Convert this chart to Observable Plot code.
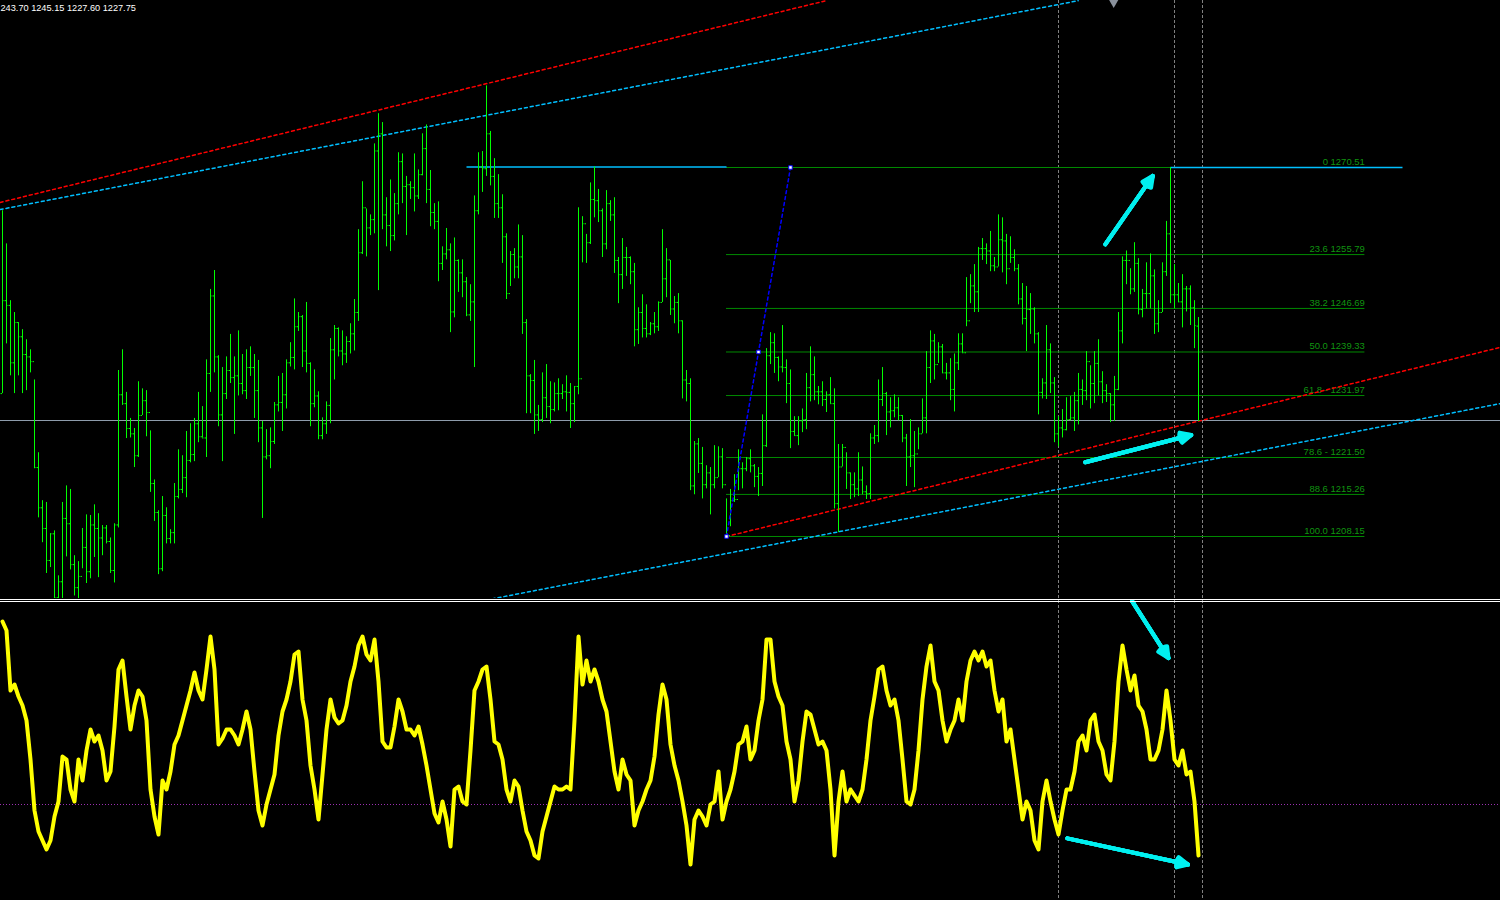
<!DOCTYPE html>
<html><head><meta charset="utf-8">
<script src="https://cdn.jsdelivr.net/npm/d3@7"></script>
<script src="https://cdn.jsdelivr.net/npm/@observablehq/plot@0.6"></script>
<style>
html,body{margin:0;padding:0;background:#000;overflow:hidden;}
#chart{position:relative;width:1500px;height:900px;overflow:hidden;background:#000;}
#top{position:absolute;left:0;top:0;}
#bottom{position:absolute;left:0;top:600px;}
.sep{position:absolute;left:0;width:1500px;height:1px;background:#fff;}
</style></head>
<body><div id="chart"><div id="top"></div><div id="bottom"></div><div class="sep" style="top:599px"></div><div class="sep" style="top:601px"></div></div>
<script>
// ---- price bars (bar index 0..299) ----
const high = [1263.2,1257.6,1248.0,1246.0,1244.3,1243.1,1241.4,1239.7,1234.6,1222.3,
1214.2,1213.9,1208.6,1209.1,1201.5,1213.9,1216.7,1216.1,1204.9,1203.9,
1209.5,1211.8,1211.7,1213.5,1212.0,1210.0,1210.0,1207.9,1210.3,1236.2,
1239.7,1232.5,1228.1,1226.4,1234.3,1233.1,1232.8,1226.0,1217.7,1212.5,
1214.9,1213.0,1209.3,1217.1,1222.8,1221.8,1225.9,1227.2,1228.1,1232.5,
1230.1,1238.0,1249.9,1253.1,1238.7,1236.7,1238.5,1242.3,1238.5,1242.9,
1238.9,1239.7,1240.2,1238.9,1237.9,1227.6,1226.2,1226.5,1230.8,1235.2,
1235.7,1238.0,1240.9,1248.3,1246.0,1245.5,1247.7,1237.5,1236.3,1232.6,
1228.2,1230.9,1241.6,1243.8,1243.4,1242.9,1241.9,1244.1,1248.2,1260.0,
1268.1,1263.5,1262.5,1274.5,1279.6,1278.1,1265.4,1268.4,1266.1,1273.0,
1272.8,1269.0,1268.1,1272.8,1270.1,1276.2,1277.7,1270.0,1264.4,1264.7,
1257.1,1260.2,1257.6,1258.6,1254.9,1254.9,1251.9,1250.7,1265.7,1273.0,
1273.2,1284.3,1276.6,1272.0,1269.3,1265.9,1259.3,1256.3,1256.8,1260.8,
1259.0,1244.8,1235.5,1237.9,1230.3,1235.8,1237.2,1234.3,1234.1,1234.8,
1233.8,1235.3,1234.0,1233.5,1263.7,1262.2,1259.2,1267.9,1270.6,1266.8,
1263.5,1266.6,1264.9,1265.4,1255.3,1258.5,1257.0,1255.4,1254.3,1246.8,
1249.0,1247.3,1244.3,1246.0,1247.8,1260.0,1256.8,1254.8,1248.7,1249.2,
1244.6,1236.2,1234.8,1224.2,1224.7,1223.2,1220.1,1219.8,1223.5,1223.3,
1223.0,1214.5,1216.1,1218.6,1222.8,1220.6,1221.5,1222.8,1220.3,1219.8,
1228.7,1239.9,1242.6,1242.4,1238.5,1243.8,1238.0,1236.3,1228.4,1228.4,
1229.7,1235.7,1240.2,1238.5,1233.5,1234.3,1232.6,1235.0,1233.1,1223.7,
1223.7,1222.3,1218.9,1218.9,1222.3,1219.9,1216.7,1225.5,1226.9,1234.6,
1236.7,1232.5,1231.6,1232.1,1231.6,1228.6,1225.4,1227.9,1225.9,1226.5,
1231.4,1239.4,1242.9,1242.3,1240.9,1240.6,1237.4,1238.2,1239.0,1242.4,
1242.4,1251.9,1252.4,1254.1,1257.0,1258.5,1257.6,1259.7,1255.3,1262.5,
1262.0,1259.2,1258.8,1256.6,1254.1,1250.9,1250.4,1249.2,1246.8,1242.6,
1234.8,1243.8,1240.7,1235.0,1228.4,1229.6,1231.6,1231.8,1232.5,1235.7,
1234.6,1239.4,1237.0,1239.4,1241.4,1236.0,1233.8,1232.3,1235.2,1246.0,
1255.4,1256.4,1253.4,1257.8,1255.1,1249.9,1254.4,1255.9,1253.2,1248.0,
1254.4,1261.4,1270.51,1254.1,1250.9,1252.4,1250.4,1250.5,1248.0,1245.15];
const low = [1232.3,1240.7,1235.3,1232.3,1235.3,1232.3,1232.8,1235.8,1219.6,1211.3,
1207.1,1201.9,1202.9,1196.5,1196.8,1196.8,1204.7,1202.5,1198.1,1197.0,
1202.7,1200.2,1201.0,1204.6,1201.2,1204.9,1206.9,1201.9,1200.3,1209.6,
1230.3,1224.7,1224.8,1219.8,1221.5,1228.6,1225.0,1215.6,1210.7,1201.7,
1202.2,1206.9,1206.9,1206.9,1214.5,1215.4,1214.7,1220.6,1220.8,1224.0,
1224.8,1221.5,1232.5,1235.8,1226.7,1220.8,1231.3,1234.0,1225.4,1231.9,
1232.1,1231.3,1235.2,1228.1,1224.0,1211.2,1221.1,1219.6,1223.7,1229.2,
1225.9,1229.7,1236.8,1236.3,1242.8,1236.7,1235.8,1226.7,1229.9,1224.5,
1224.5,1225.4,1227.2,1234.6,1238.5,1237.0,1237.4,1239.0,1239.5,1244.5,
1255.8,1255.4,1259.0,1259.3,1249.7,1260.0,1257.1,1256.3,1258.1,1262.5,
1264.4,1259.0,1265.1,1263.0,1265.1,1269.1,1264.4,1260.5,1260.0,1251.2,
1253.1,1254.9,1242.6,1245.1,1249.4,1248.5,1245.3,1244.5,1236.7,1262.5,
1266.3,1269.0,1267.4,1261.9,1261.9,1254.3,1248.2,1250.4,1251.7,1251.7,
1242.3,1228.9,1228.9,1225.4,1225.9,1227.4,1228.1,1227.2,1229.2,1229.4,
1231.3,1229.2,1226.4,1227.4,1232.1,1254.4,1254.3,1257.5,1262.0,1261.2,
1255.3,1256.6,1261.4,1252.6,1247.5,1249.9,1252.1,1250.7,1240.2,1240.6,
1241.7,1241.7,1242.1,1242.4,1242.8,1247.7,1248.5,1245.5,1244.1,1242.4,
1231.4,1230.9,1215.9,1215.2,1218.8,1214.5,1216.2,1211.8,1216.2,1218.1,
1216.2,1208.15,1209.8,1213.9,1215.9,1216.2,1219.1,1218.9,1216.4,1214.9,
1216.6,1223.2,1237.2,1235.7,1234.3,1235.8,1230.6,1223.0,1225.2,1223.5,
1225.7,1226.2,1230.9,1231.1,1230.4,1230.1,1229.1,1230.6,1212.8,1208.8,
1219.9,1216.1,1214.4,1214.7,1214.9,1215.2,1214.4,1214.4,1223.7,1224.0,
1230.1,1225.2,1226.5,1228.2,1227.7,1224.0,1216.6,1219.8,1216.4,1222.8,
1225.5,1225.5,1234.0,1234.6,1237.4,1235.7,1234.6,1231.1,1229.2,1236.2,
1239.2,1243.6,1247.5,1246.0,1246.0,1254.8,1254.1,1252.9,1252.9,1253.7,
1252.7,1250.7,1254.3,1252.9,1247.3,1243.9,1239.4,1242.3,1240.7,1228.7,
1231.4,1231.3,1232.3,1224.0,1223.3,1224.8,1226.0,1227.7,1225.9,1227.0,
1230.3,1231.1,1229.7,1230.6,1231.9,1230.6,1230.8,1227.4,1227.6,1232.8,
1240.7,1250.7,1249.0,1249.4,1245.6,1245.1,1246.6,1246.6,1242.3,1242.6,
1246.0,1252.1,1247.5,1246.6,1247.7,1243.4,1246.1,1243.8,1239.9,1227.60];
const open = [1232.3,1248.0,1247.2,1237.5,1244.3,1241.9,1238.9,1238.5,1237.7,1219.8,
1213.0,1209.5,1204.1,1208.6,1197.8,1200.5,1211.2,1210.3,1203.4,1199.5,
1201.4,1206.3,1202.2,1210.1,1209.5,1207.9,1209.6,1207.3,1202.4,1210.1,
1232.1,1230.6,1226.4,1225.5,1221.8,1228.6,1231.1,1229.1,1217.1,1212.2,
1202.7,1211.7,1207.8,1208.8,1214.9,1216.1,1218.1,1221.0,1222.0,1227.2,
1225.0,1224.8,1235.7,1248.8,1238.5,1228.7,1232.3,1236.2,1235.0,1235.3,
1234.0,1232.8,1236.7,1236.7,1232.8,1226.5,1221.6,1221.8,1224.2,1230.4,
1230.8,1232.1,1237.5,1238.4,1243.6,1245.3,1239.5,1237.4,1230.6,1231.9,
1225.2,1227.2,1230.3,1239.7,1243.3,1239.5,1239.0,1241.1,1242.4,1246.0,
1256.1,1263.7,1260.3,1261.7,1273.3,1276.2,1262.5,1260.7,1259.0,1264.4,
1271.5,1267.3,1267.6,1267.1,1265.7,1269.3,1273.7,1266.8,1262.9,1261.4,
1254.3,1255.9,1256.6,1246.1,1254.8,1252.7,1251.2,1245.6,1247.8,1263.2,
1270.6,1270.3,1276.2,1269.0,1264.4,1263.7,1258.8,1249.2,1255.8,1253.7,
1255.4,1244.3,1235.3,1234.5,1228.7,1227.9,1231.6,1230.1,1229.6,1232.3,
1232.3,1232.6,1232.5,1230.6,1233.5,1234.8,1261.0,1257.8,1265.1,1264.9,
1263.2,1257.6,1264.4,1262.5,1254.8,1252.4,1255.3,1255.3,1252.9,1243.1,
1246.0,1243.3,1242.4,1244.1,1243.6,1247.7,1251.7,1254.9,1246.6,1247.7,
1244.6,1234.6,1234.0,1216.7,1223.8,1220.5,1216.9,1218.9,1216.9,1218.1,
1221.6,1216.9,1208.3,1214.2,1214.4,1219.6,1219.6,1221.3,1220.1,1218.3,
1218.8,1223.5,1238.7,1240.9,1238.4,1236.8,1236.7,1234.0,1225.9,1225.2,
1227.7,1227.9,1233.3,1235.5,1232.6,1232.6,1231.3,1232.1,1230.6,1213.7,
1219.9,1223.2,1218.9,1216.9,1216.2,1217.7,1215.7,1215.4,1224.8,1225.2,
1231.3,1232.3,1229.2,1229.4,1229.9,1228.6,1224.8,1221.6,1221.8,1222.1,
1225.5,1228.2,1236.7,1241.2,1237.2,1240.2,1235.8,1235.8,1233.0,1237.5,
1240.7,1239.2,1244.6,1250.5,1249.5,1256.8,1256.8,1256.4,1253.9,1253.7,
1258.3,1258.1,1253.4,1255.3,1253.4,1248.3,1245.0,1246.5,1246.6,1242.4,
1232.5,1234.1,1239.7,1234.1,1225.5,1226.5,1226.2,1227.9,1228.2,1231.1,
1233.0,1232.8,1237.7,1234.0,1237.4,1234.3,1232.8,1232.3,1230.4,1233.0,
1242.9,1254.8,1254.8,1250.0,1254.3,1246.5,1249.2,1249.2,1252.2,1244.1,
1246.0,1252.9,1259.3,1249.0,1249.0,1247.8,1250.0,1250.0,1246.8,1243.70];
const close = [1248.0,1247.2,1237.5,1244.3,1241.9,1238.9,1238.5,1237.7,1219.8,1213.0,
1209.5,1204.1,1208.6,1197.8,1200.5,1211.2,1210.3,1203.4,1199.5,1201.4,
1206.3,1202.2,1210.1,1209.5,1207.9,1209.6,1207.3,1202.4,1210.1,1232.1,
1230.6,1226.4,1225.5,1221.8,1228.6,1231.1,1229.1,1217.1,1212.2,1202.7,
1211.7,1207.8,1208.8,1214.9,1216.1,1218.1,1221.0,1222.0,1227.2,1225.0,
1224.8,1235.7,1248.8,1238.5,1228.7,1232.3,1236.2,1235.0,1235.3,1234.0,
1232.8,1236.7,1236.7,1232.8,1226.5,1221.6,1221.8,1224.2,1230.4,1230.8,
1232.1,1237.5,1238.4,1243.6,1245.3,1239.5,1237.4,1230.6,1231.9,1225.2,
1227.2,1230.3,1239.7,1243.3,1239.5,1239.0,1241.1,1242.4,1246.0,1256.1,
1263.7,1260.3,1261.7,1273.3,1276.2,1262.5,1260.7,1259.0,1264.4,1271.5,
1267.3,1267.6,1267.1,1265.7,1269.3,1273.7,1266.8,1262.9,1261.4,1254.3,
1255.9,1256.6,1246.1,1254.8,1252.7,1251.2,1245.6,1247.8,1263.2,1270.6,
1270.3,1276.2,1269.0,1264.4,1263.7,1258.8,1249.2,1255.8,1253.7,1255.4,
1244.3,1235.3,1234.5,1228.7,1227.9,1231.6,1230.1,1229.6,1232.3,1232.3,
1232.6,1232.5,1230.6,1233.5,1234.8,1261.0,1257.8,1265.1,1264.9,1263.2,
1257.6,1264.4,1262.5,1254.8,1252.4,1255.3,1255.3,1252.9,1243.1,1246.0,
1243.3,1242.4,1244.1,1243.6,1247.7,1251.7,1254.9,1246.6,1247.7,1244.6,
1234.6,1234.0,1216.7,1223.8,1220.5,1216.9,1218.9,1216.9,1218.1,1221.6,
1216.9,1208.3,1214.2,1214.4,1219.6,1219.6,1221.3,1220.1,1218.3,1218.8,
1223.5,1238.7,1240.9,1238.4,1236.8,1236.7,1234.0,1225.9,1225.2,1227.7,
1227.9,1233.3,1235.5,1232.6,1232.6,1231.3,1232.1,1230.6,1213.7,1219.9,
1223.2,1218.9,1216.9,1216.2,1217.7,1215.7,1215.4,1224.8,1225.2,1231.3,
1232.3,1229.2,1229.4,1229.9,1228.6,1224.8,1221.6,1221.8,1222.1,1225.5,
1228.2,1236.7,1241.2,1237.2,1240.2,1235.8,1235.8,1233.0,1237.5,1240.7,
1239.2,1244.6,1250.5,1249.5,1256.8,1256.8,1256.4,1253.9,1253.7,1258.3,
1258.1,1253.4,1255.3,1253.4,1248.3,1245.0,1246.5,1246.6,1242.4,1232.5,
1234.1,1239.7,1234.1,1225.5,1226.5,1226.2,1227.9,1228.2,1231.1,1233.0,
1232.8,1237.7,1234.0,1237.4,1234.3,1232.8,1232.3,1230.4,1233.0,1242.9,
1254.8,1254.8,1250.0,1254.3,1246.5,1249.2,1249.2,1252.2,1244.1,1246.0,
1252.9,1259.3,1249.0,1249.0,1247.8,1250.0,1250.0,1246.8,1243.8,1227.75];

// ---- oscillator (sub-window, 0..100) ----
const osc = [93,90,70,72,68,65,60,47,30,23, 20,17,20,28,33,48,47,37,33,47,
40,50,57,53,55,50,40,43,58,77, 80,68,57,65,70,68,60,37,28,22,
40,37,43,52,55,60,65,70,76,70, 67,77,88,77,52,54,57,57,55,52,
57,63,57,43,30,25,32,37,42,55, 63,67,73,82,83,67,60,45,37,27,
42,57,67,61,59,60,65,73,78,85, 88,82,80,87,73,53,51,51,58,67,
63,57,57,55,58,52,45,37,29,26, 33,27,18,37,38,33,32,50,70,73,
77,78,67,53,52,47,37,33,40,38, 30,23,20,15,14,23,28,33,38,37,
37,38,37,60,88,72,80,73,77,73, 67,63,53,43,37,47,42,40,25,30,
33,37,40,48,62,72,67,52,45,40, 33,25,12,27,30,28,25,32,33,43,
27,33,37,43,52,53,58,47,50,60, 67,87,87,73,68,65,53,47,33,40,
53,63,62,57,52,53,50,37,15,33, 43,33,37,35,33,37,47,60,68,77,
78,70,65,67,60,47,33,32,37,50, 67,78,85,73,70,60,53,57,60,67,
60,73,80,83,80,83,78,80,70,63, 67,53,57,47,37,27,33,30,20,17,
33,40,33,27,22,30,37,37,43,53, 55,50,60,62,53,50,42,40,53,73,
85,77,70,75,65,63,57,47,47,50, 57,70,60,47,45,50,42,43,33,15];
const oscLevel = 32;

// ---- header quote as visible at the window's left edge ----
const headerText = "243.70 1245.15 1227.60 1227.75";

// ---- Fibonacci retracement ----
const fibPrices = [1270.51,1255.79,1246.69,1239.33,1231.97,1221.50,1215.26,1208.15];
const fibLabels = ["0 1270.51","23.6 1255.79","38.2 1246.69","50.0 1239.33","61.8 - 1231.97","78.6 - 1221.50","88.6 1215.26","100.0 1208.15"];
const fibStartBar = 181, fibEndBar = 340.6;
const fibAnchorBars = [181, 189, 197];
const fibAnchorPrices = [1208.15, 1239.33, 1270.51];

// ---- channel trend lines (bar, price anchors) ----
const redUpperBars = [-0.6, 205.9], redUpperPrices = [1264.6, 1298.7];
const redLowerBars = [181, 374.4], redLowerPrices = [1208.15, 1240.1];
const blueUpperBars = [-0.6, 268.9], blueUpperPrices = [1263.4, 1298.7];
const blueLowerBars = [122.4, 374.4], blueLowerPrices = [1197.6, 1230.6];

// ---- horizontal lines ----
const cyanStartBars = [116, 292], cyanEndBars = [181, 350], cyanPrices = [1270.6, 1270.51];
const bidPrice = 1227.75;
const vLineBars = [264, 293, 300];
const chartShiftBar = 277.8;

// ---- arrows ----
const topArrowBars1 = [275.7, 270.7], topArrowPrices1 = [1257.5, 1220.7];
const topArrowBars2 = [287.6, 297.2], topArrowPrices2 = [1269.1, 1225.3];
const botArrowBars1 = [282.4, 266.2], botArrowValues1 = [99.8, 20.7];
const botArrowBars2 = [291.5, 296.4], botArrowValues2 = [80.8, 12];

// ---- build tables ----
const bars = high.map((h, i) => ({i, high: h, low: low[i], open: open[i], close: close[i]}));
const oscData = osc.map((v, i) => ({i, v}));
const fib = fibPrices.map((p, k) => ({p, label: fibLabels[k], x1: fibStartBar, x2: fibEndBar}));
const fibDiag = fibAnchorBars.map((b, k) => ({i: b, p: fibAnchorPrices[k]}));
const seg = (bs, ps) => bs.map((b, k) => ({i: b, p: ps[k]}));
const cyanSegs = cyanPrices.map((p, k) => ({x1: cyanStartBars[k], x2: cyanEndBars[k], p}));
const topArrows = topArrowBars1.map((b, k) => ({x1: b, y1: topArrowPrices1[k], x2: topArrowBars2[k], y2: topArrowPrices2[k]}));
const botArrows = botArrowBars1.map((b, k) => ({x1: b, y1: botArrowValues1[k], x2: botArrowBars2[k], y2: botArrowValues2[k]}));

const xDomain = [-0.5, 374.5];
const font = "'Liberation Sans', Arial, sans-serif";
const barColor = "#00ff00";
const arrowColor = "#00f0f0";
// thick arrows: several head angles overlaid so the head reads as a solid triangle
const arrowMarks = (data) => [52, 38, 24, 10].map(a =>
  Plot.arrow(data, {x1: "x1", y1: "y1", x2: "x2", y2: "y2", stroke: arrowColor, strokeWidth: 4, headLength: 4.5, headAngle: a}));

const topPlot = Plot.plot({
  width: 1500, height: 598, margin: 0,
  style: {background: "#000", fontFamily: font, overflow: "hidden"},
  x: {domain: xDomain, axis: null},
  y: {domain: [1197.67, 1298.73], axis: null},
  marks: [
    Plot.ruleX(vLineBars, {stroke: "#808080", strokeDasharray: "3,2"}),
    Plot.ruleY([bidPrice], {stroke: "#8e9cab"}),
    Plot.ruleY(fib, {y: "p", x1: "x1", x2: "x2", stroke: "#008a00"}),
    Plot.text(fib, {x: "x2", y: "p", text: "label", textAnchor: "end", lineAnchor: "bottom", dy: -2.5, fill: "#109410", fontSize: 9.5}),
    Plot.line(seg(redUpperBars, redUpperPrices), {x: "i", y: "p", stroke: "#ff0000", strokeDasharray: "3,3", clip: true}),
    Plot.line(seg(redLowerBars, redLowerPrices), {x: "i", y: "p", stroke: "#ff0000", strokeDasharray: "3,3", clip: true}),
    Plot.line(seg(blueUpperBars, blueUpperPrices), {x: "i", y: "p", stroke: "#00bfff", strokeDasharray: "3,3", clip: true}),
    Plot.line(seg(blueLowerBars, blueLowerPrices), {x: "i", y: "p", stroke: "#00bfff", strokeDasharray: "3,3", clip: true}),
    Plot.link(cyanSegs, {x1: "x1", x2: "x2", y1: "p", y2: "p", stroke: "#00bfff", strokeWidth: 1.5}),
    Plot.ruleX(bars, {x: "i", y1: "low", y2: "high", stroke: barColor, clip: true}),
    Plot.ruleY(bars, {y: "open", x1: d => d.i - 0.375, x2: "i", stroke: barColor, clip: true}),
    Plot.ruleY(bars, {y: "close", x1: "i", x2: d => d.i + 0.375, stroke: barColor, clip: true}),
    Plot.line(fibDiag, {x: "i", y: "p", stroke: "#0000ff", strokeDasharray: "3,3"}),
    Plot.dot(fibDiag, {x: "i", y: "p", symbol: "square", r: 2, fill: "#ffffff", stroke: "#0000ff", strokeWidth: 1}),
    ...arrowMarks(topArrows),
    Plot.dot([chartShiftBar], {x: d => d, frameAnchor: "top", symbol: "triangle", rotate: 180, r: 3.5, fill: "#8a919c", dy: 2}),
    Plot.text([headerText], {frameAnchor: "top-left", text: d => d, dx: 0, dy: 4, lineAnchor: "top", textAnchor: "start", fill: "#ffffff", fontSize: 9.2})
  ]
});
document.getElementById("top").appendChild(topPlot);

const botPlot = Plot.plot({
  width: 1500, height: 300, margin: 0,
  style: {background: "#000", fontFamily: font, overflow: "hidden"},
  x: {domain: xDomain, axis: null},
  y: {domain: [0, 100], axis: null},
  marks: [
    Plot.ruleX(vLineBars, {stroke: "#808080", strokeDasharray: "3,2"}),
    Plot.ruleY([oscLevel], {stroke: "#9b30b0", strokeDasharray: "1,2"}),
    Plot.line(oscData, {x: "i", y: "v", stroke: "#ffff00", strokeWidth: 4, strokeLinejoin: "round", clip: true}),
    ...arrowMarks(botArrows)
  ]
});
document.getElementById("bottom").appendChild(botPlot);
</script>
</body></html>
